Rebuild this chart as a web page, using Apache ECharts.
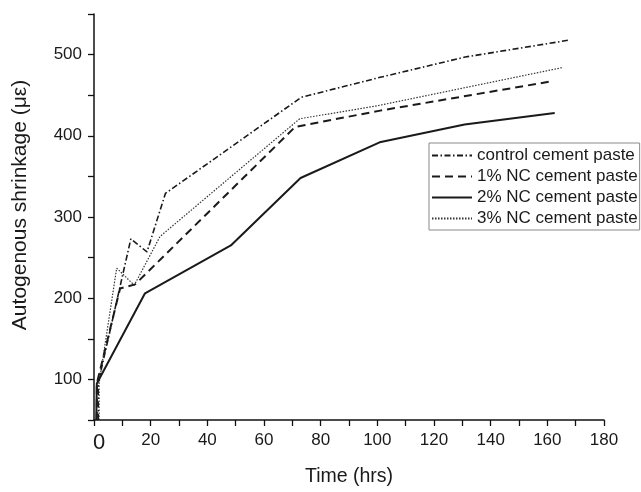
<!DOCTYPE html>
<html>
<head>
<meta charset="utf-8">
<script src="https://cdn.jsdelivr.net/npm/echarts@6/dist/echarts.min.js"></script>
<style>
  html, body { margin: 0; padding: 0; background: #fff; }
  #chart { width: 641px; height: 492px; }
</style>
</head>
<body>
<div id="chart"></div>
<script>
// Autogenous shrinkage of cement pastes over time
const seriesNames = [
  'control cement paste',
  '1% NC cement paste',
  '2% NC cement paste',
  '3% NC cement paste'
];

// time (hrs) and shrinkage (με) for each paste
const timeControl = [1.5, 1.5, 13, 18.7, 25.2, 73.2, 101, 131, 168];
const shrinkControl = [50, 96, 273, 257, 329, 447.5, 472, 497, 518];

const timeNC1 = [1, 1, 9.2, 14.5, 71, 101, 161.4];
const shrinkNC1 = [50, 95, 212, 217, 411, 431, 467];

const timeNC2 = [0.8, 1, 18, 48.3, 72.9, 100.8, 130.8, 162.6];
const shrinkNC2 = [50, 95, 206, 265, 348, 392, 414, 428];

const timeNC3 = [1.8, 1.8, 8, 14.2, 23.3, 72.6, 100, 165.3];
const shrinkNC3 = [50, 95, 237, 216, 276, 421, 437, 484];

const xTickLabels = [0, 20, 40, 60, 80, 100, 120, 140, 160, 180];
const yTickLabels = [100, 200, 300, 400, 500];

function pairs(xs, ys) {
  return xs.map((x, i) => [x, ys[i]]);
}

const lineStyles = [
  { color: '#1a1a1a', width: 1.6, type: [6, 2.5, 1.5, 2.5] },
  { color: '#1a1a1a', width: 2, type: [8, 5] },
  { color: '#1a1a1a', width: 2, type: 'solid' },
  { color: '#333333', width: 1.2, type: [1.5, 1.5] }
];

const dataSets = [
  pairs(timeControl, shrinkControl),
  pairs(timeNC1, shrinkNC1),
  pairs(timeNC2, shrinkNC2),
  pairs(timeNC3, shrinkNC3)
];

const FONT = '"Liberation Sans", Arial, sans-serif';
const TEXT = '#1a1a1a';

const chart = echarts.init(document.getElementById('chart'), null, { renderer: 'canvas' });

chart.setOption({
  animation: false,
  backgroundColor: '#fff',
  grid: { left: 94, right: 37, top: 14, bottom: 68 },
  legend: {
    orient: 'vertical',
    left: 429,
    top: 143,
    padding: [4, 2, 3, 2],
    itemGap: 4,
    itemWidth: 40,
    itemHeight: 18,
    borderColor: '#8a8a8a',
    borderWidth: 1,
    itemStyle: { opacity: 0, borderWidth: 0 },
    textStyle: { fontFamily: FONT, fontSize: 17, color: TEXT },
    data: seriesNames
  },
  xAxis: {
    type: 'value',
    min: 0,
    max: 180,
    interval: 10,
    name: 'Time (hrs)',
    nameLocation: 'middle',
    nameGap: 47,
    nameTextStyle: { fontFamily: FONT, fontSize: 19.5, color: TEXT },
    splitLine: { show: false },
    axisLine: { lineStyle: { color: '#111', width: 1.5 } },
    axisTick: { length: 6, lineStyle: { color: '#111', width: 1.3 } },
    axisLabel: {
      fontFamily: FONT,
      fontSize: 17,
      color: TEXT,
      margin: 12,
      formatter: function (v) {
        if (xTickLabels.indexOf(v) < 0) return '';
        return v === 0 ? '{z|0}' : String(v);
      },
      rich: {
        z: { fontFamily: FONT, fontSize: 22, color: TEXT, padding: [0, 0, 0, 10] }
      }
    }
  },
  yAxis: {
    type: 'value',
    min: 50,
    max: 550,
    interval: 50,
    name: 'Autogenous shrinkage (με)',
    nameLocation: 'middle',
    nameGap: 63,
    nameTextStyle: { fontFamily: FONT, fontSize: 21, color: TEXT, padding: [0, 0, 0, 24] },
    splitLine: { show: false },
    axisLine: { show: true, lineStyle: { color: '#111', width: 1.5 } },
    axisTick: { show: true, length: 6, lineStyle: { color: '#111', width: 1.3 } },
    axisLabel: {
      fontFamily: FONT,
      fontSize: 17,
      color: TEXT,
      margin: 12,
      formatter: function (v) {
        return yTickLabels.indexOf(v) >= 0 ? String(v) : '';
      }
    }
  },
  series: seriesNames.map((name, i) => ({
    name: name,
    type: 'line',
    data: dataSets[i],
    symbol: 'none',
    clip: true,
    lineStyle: lineStyles[i],
    itemStyle: { color: lineStyles[i].color },
    z: 4 - i
  }))
});
</script>
</body>
</html>
